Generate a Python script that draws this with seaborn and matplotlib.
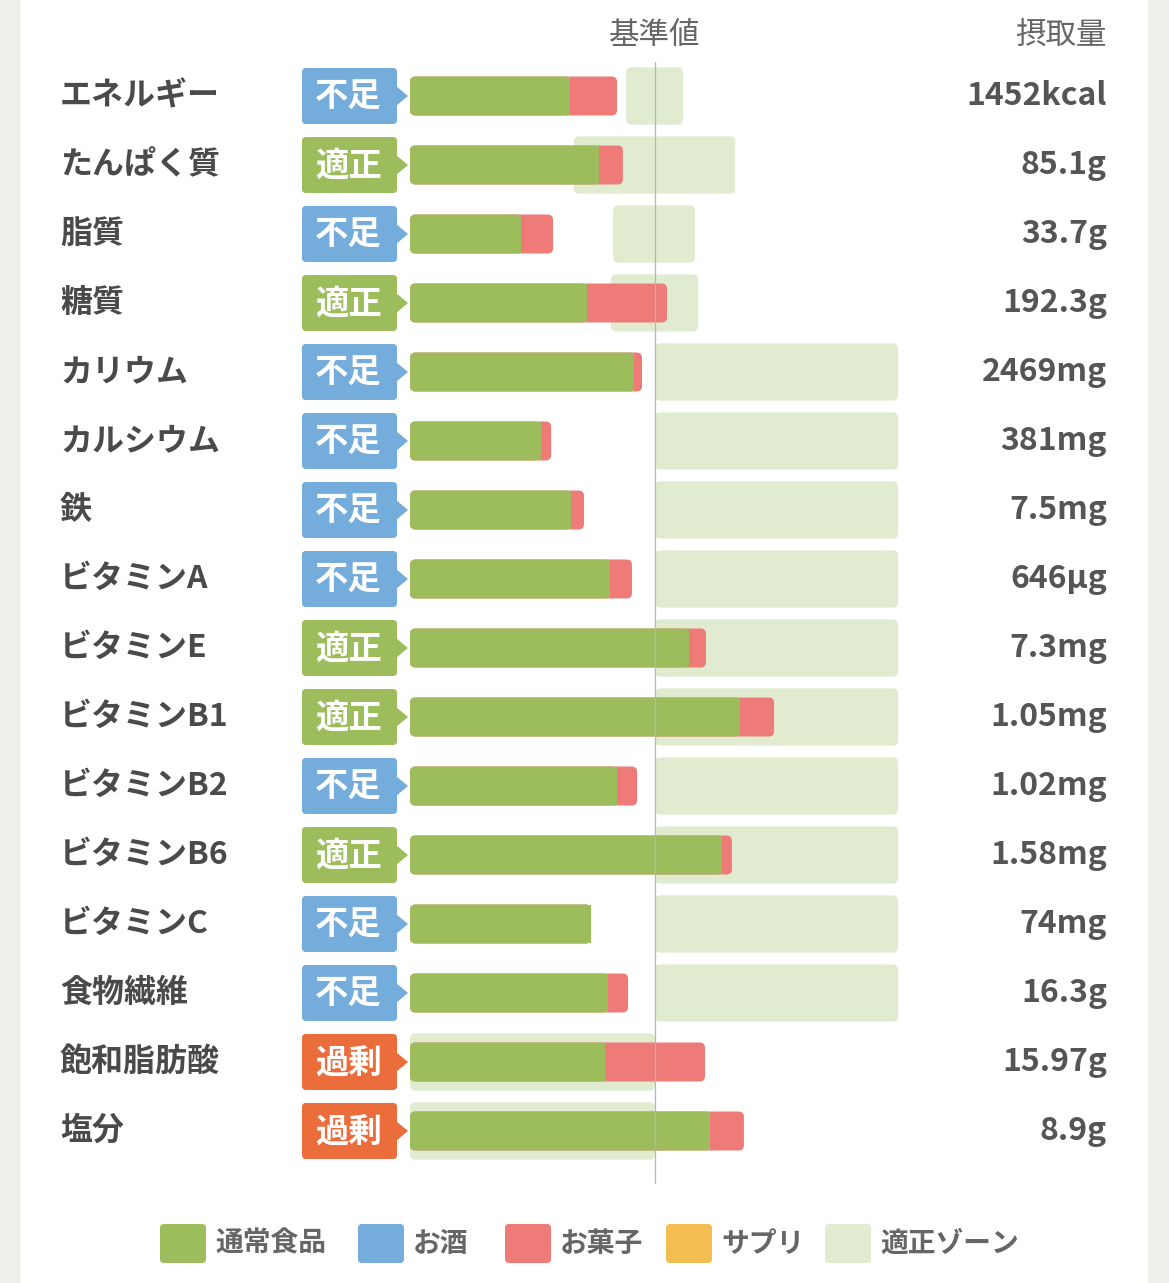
import matplotlib
matplotlib.use("Agg")
import matplotlib.pyplot as plt
import seaborn as sns
import pandas as pd
from matplotlib.patches import FancyBboxPatch, Rectangle, Polygon

# --- data (percent of reference value) ---
nutrients = ["エネルギー", "たんぱく質", "脂質", "糖質", "カリウム", "カルシウム", "鉄",
             "ビタミンA", "ビタミンE", "ビタミンB1", "ビタミンB2", "ビタミンB6",
             "ビタミンC", "食物繊維", "飽和脂肪酸", "塩分"]
status = ["不足", "適正", "不足", "適正", "不足", "不足", "不足", "不足",
          "適正", "適正", "不足", "適正", "不足", "不足", "過剰", "過剰"]
intake = ["1452kcal", "85.1g", "33.7g", "192.3g", "2469mg", "381mg", "7.5mg", "646μg",
          "7.3mg", "1.05mg", "1.02mg", "1.58mg", "74mg", "16.3g", "15.97g", "8.9g"]
normal_food = [65.3, 77.1, 45.3, 72.2, 91.4, 53.5, 65.7, 81.6,
               113.9, 134.7, 84.5, 127.3, 73.9, 80.8, 79.6, 122.4]
snack = [19.2, 9.8, 13.1, 32.7, 3.3, 4.1, 5.3, 9.0,
         6.9, 13.9, 8.2, 4.1, 0.0, 8.2, 40.8, 13.9]
zone_lo = [88.2, 66.9, 82.9, 82.0, 100, 100, 100, 100,
           100, 100, 100, 100, 100, 100, 0, 0]
zone_hi = [111.4, 132.7, 116.3, 117.6, 199.2, 199.2, 199.2, 199.2,
           199.2, 199.2, 199.2, 199.2, 199.2, 199.2, 100, 100]
legend_labels = ["通常食品", "お酒", "お菓子", "サプリ", "適正ゾーン"]

C_GREEN = "#9dbd5c"
C_BLUE = "#74acdb"
C_RED = "#ee7b78"
C_YELLOW = "#f3bd52"
C_ZONE = "#e0ebcf"
C_ORANGE = "#ec6d3c"
badge_colors = {"不足": C_BLUE, "適正": C_GREEN, "過剰": C_ORANGE}

sns.set_theme(style="white")
plt.rcParams["font.family"] = ["Noto Sans CJK JP", "DejaVu Sans"]

W, H = 1169, 1283
fig = plt.figure(figsize=(W / 100, H / 100), dpi=100, facecolor="#efefeb")

# overlay in pixel coords for background, badges and texts
ov = fig.add_axes([0, 0, 1, 1])
ov.set_xlim(0, W)
ov.set_ylim(H, 0)
ov.axis("off")
ov.add_patch(Rectangle((21, 0), 1126, H, color="white", zorder=0))

# main axes: x in percent, 0% at px 410, 100% at px 655; y rows at px 96 + 69*i
PX = 2.45
x0 = -410 / PX
x1 = (W - 410) / PX
y_top = -96 / 69
y_bot = (H - 96) / 69
ax = fig.add_axes([0, 0, 1, 1])
ax.patch.set_alpha(0)

n = len(nutrients)
df = pd.DataFrame({
    "nutrient": nutrients,
    "normal": normal_food,
    "total": [a + b for a, b in zip(normal_food, snack)],
    "zlo": zone_lo,
    "zw": [h - l for l, h in zip(zone_lo, zone_hi)],
})

aspect = (1 / 69) / (1 / PX)


def draw_rounded(color, z, square_right=False, **kw):
    """Draw bars with seaborn, then swap them for rounded boxes."""
    before = set(ax.patches)
    sns.barplot(data=df, y="nutrient", orient="h", color=color, ax=ax, saturation=1, **kw)
    new = [p for p in ax.patches if p not in before]
    for p in new:
        x, y, w, h = p.get_x(), p.get_y(), p.get_width(), p.get_height()
        p.remove()
        if w <= 0:
            continue
        ax.add_patch(FancyBboxPatch((x, y), w, h, boxstyle="round,pad=0,rounding_size=2.2",
                                    mutation_aspect=aspect, fc=color, ec="none", zorder=z))
        if square_right:
            ax.add_patch(Rectangle((x + w - 3, y), 3, h, fc=color, ec="none", zorder=z))


draw_rounded(C_ZONE, 1, x="zw", left=df["zlo"], width=0.83)
draw_rounded(C_RED, 2, x="total", width=0.565)
draw_rounded(C_GREEN, 3, square_right=True, x="normal", width=0.565)

ax.set_xlim(x0, x1)
ax.set_ylim(y_bot, y_top)
ax.axis("off")

# reference line
ax.plot([100, 100], [-0.49, 15.75], color="#b5b5b5", lw=0.9, zorder=4)

# texts and badges
txt_color = "#4a4a4a"
for i in range(n):
    yc = 96 + 69 * i
    ov.text(60, yc, nutrients[i], ha="left", va="center", fontsize=23,
            fontweight="bold", color=txt_color)
    ov.text(1107, yc, intake[i], ha="right", va="center", fontsize=23,
            fontweight="bold", color="#555555")
    c = badge_colors[status[i]]
    ov.add_patch(FancyBboxPatch((302, yc - 28), 95, 56, boxstyle="round,pad=0,rounding_size=4",
                                fc=c, ec="none", zorder=2))
    ov.add_patch(Polygon([(396, yc - 10), (408, yc), (396, yc + 10)], closed=True,
                         fc=c, ec="none", zorder=2))
    ov.text(348, yc + 1, status[i], ha="center", va="center", fontsize=24,
            fontweight="bold", color="white", zorder=3)

ov.text(655, 35, "基準値", ha="center", va="center", fontsize=22, color="#666666")
ov.text(1107, 35, "摂取量", ha="right", va="center", fontsize=22, color="#666666")

# legend
leg_colors = [C_GREEN, C_BLUE, C_RED, C_YELLOW, C_ZONE]
sq_x = [160, 358, 505, 666, 825]
for lbl, c, sx in zip(legend_labels, leg_colors, sq_x):
    ov.add_patch(FancyBboxPatch((sx, 1224), 46, 39, boxstyle="round,pad=0,rounding_size=4",
                                fc=c, ec="none", zorder=2))
    ov.text(sx + 55, 1244, lbl, ha="left", va="center", fontsize=20,
            fontweight="bold", color="#666666")

fig.savefig("out.png", dpi=100, facecolor=fig.get_facecolor())
